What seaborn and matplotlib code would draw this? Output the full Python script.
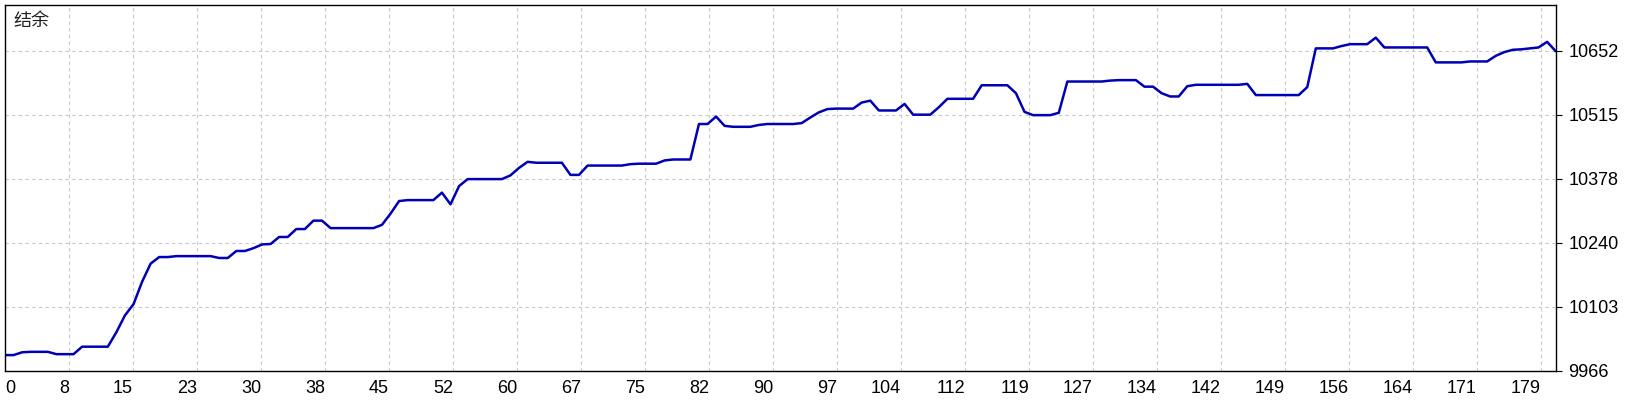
import numpy as np
import pandas as pd
import matplotlib
matplotlib.use("Agg")
import matplotlib.pyplot as plt
import seaborn as sns

# balance after each trade
balance = [
    9999, 9999, 10005, 10006, 10006, 10006, 10001, 10001, 10001, 10017,
    10017, 10017, 10017, 10048, 10084, 10108, 10156, 10195, 10209, 10209,
    10211, 10211, 10211, 10211, 10211, 10207, 10207, 10222, 10222, 10228,
    10236, 10237, 10252, 10252, 10269, 10269, 10287, 10287, 10271, 10271,
    10271, 10271, 10271, 10271, 10278, 10302, 10329, 10331, 10331, 10331,
    10331, 10347, 10322, 10361, 10376, 10376, 10376, 10376, 10376, 10384,
    10400, 10413, 10411, 10411, 10411, 10411, 10385, 10385, 10405, 10405,
    10405, 10405, 10405, 10408, 10409, 10409, 10409, 10416, 10418, 10418,
    10418, 10494, 10494, 10510, 10490, 10488, 10488, 10488, 10492, 10494,
    10494, 10494, 10494, 10496, 10508, 10519, 10526, 10527, 10527, 10527,
    10540, 10544, 10523, 10523, 10523, 10537, 10514, 10514, 10514, 10530,
    10548, 10548, 10548, 10548, 10577, 10577, 10577, 10577, 10560, 10520,
    10513, 10513, 10513, 10518, 10585, 10585, 10585, 10585, 10585, 10587,
    10588, 10588, 10588, 10574, 10574, 10560, 10553, 10553, 10575, 10578,
    10578, 10578, 10578, 10578, 10578, 10580, 10556, 10556, 10556, 10556,
    10556, 10556, 10573, 10656, 10656, 10656, 10661, 10665, 10665, 10665,
    10679, 10658, 10658, 10658, 10658, 10658, 10658, 10626, 10626, 10626,
    10626, 10628, 10628, 10628, 10640, 10648, 10653, 10654, 10656, 10658,
    10670, 10650,
]
x_tick_labels = ['0', '8', '15', '23', '30', '38', '45', '52', '60', '67', '75', '82',
                 '90', '97', '104', '112', '119', '127', '134', '142', '149', '156',
                 '164', '171', '179']
y_tick_labels = ['9966', '10103', '10240', '10378', '10515', '10652']
y_min, y_max = 9966, 10750

df = pd.DataFrame({'trade': np.arange(len(balance)), 'balance': balance})
x_end = len(balance) - 1

sns.set_style('white')
plt.rcParams['font.family'] = ['Liberation Sans', 'DejaVu Sans']

fig = plt.figure(figsize=(16.4, 4.0), dpi=100)
ax = fig.add_axes([5 / 1640, 29.5 / 400, 1550.7 / 1640, 366 / 400])

sns.lineplot(data=df, x='trade', y='balance', ax=ax, color='#0000B4', linewidth=1.8)

ax.set_xlim(0, x_end)
ax.set_ylim(y_min, y_max)

# grid spacing on screen is fixed, the labels are the trade number under each line
x_step = 64 / 1550.7 * x_end
ax.set_xticks([i * x_step for i in range(len(x_tick_labels))])
ax.set_xticklabels(x_tick_labels)
y_step = 64 / 366 * (y_max - y_min)
ax.set_yticks([y_min + i * y_step for i in range(len(y_tick_labels))])
ax.set_yticklabels(y_tick_labels)

ax.yaxis.tick_right()
ax.tick_params(axis='both', direction='out', length=4, width=0.8, color='black',
               labelsize=13, labelcolor='black')
ax.tick_params(axis='x', pad=3)
ax.tick_params(axis='y', pad=5)
for i, lbl in enumerate(ax.get_xticklabels()):
    lbl.set_ha('left' if i == 0 else 'right')

ax.grid(True, color='#C8C8C8', linestyle=(0, (3, 3)), linewidth=0.8)
for s in ax.spines.values():
    s.set_color('black')
    s.set_linewidth(1.0)

ax.set_xlabel('')
ax.set_ylabel('')
ax.text(8 / 1550.7, 1 - 7 / 366, '结余', transform=ax.transAxes, ha='left', va='top',
        fontsize=13, color='#222222', family=['Noto Sans CJK SC', 'DejaVu Sans'])

fig.savefig('out.png', dpi=100, facecolor='white')
